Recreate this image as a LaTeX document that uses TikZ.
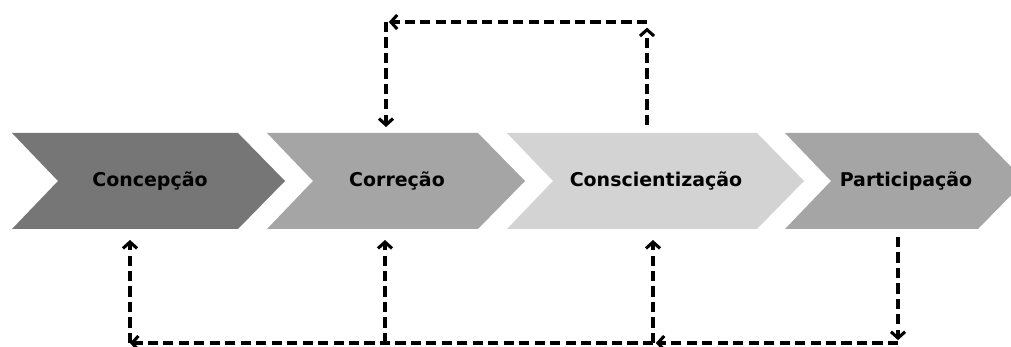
\documentclass[tikz,border=0pt]{standalone}
\usepackage{fontspec}
\setmainfont{DejaVu Sans}
\usepackage{xcolor}
\usepackage{tikz}
\usetikzlibrary{positioning,calc,arrows.meta}

\definecolor{chevdark}{HTML}{767676}
\definecolor{chevmid}{HTML}{A5A5A5}
\definecolor{chevlight}{HTML}{D3D3D3}

\begin{document}
\begin{tikzpicture}[x=0.025cm, y=0.025cm,
    stagetext/.style={font=\bfseries\fontsize{13.5}{16}\selectfont, text=black},
    flow/.style={line width=2.2pt, dash pattern=on 7.2pt off 3.8pt, -{Straight Barb[length=4.5pt,width=10pt]}}]
    \useasboundingbox (0,0) rectangle (1011,347);

    % Chevrons
    \foreach \xl/\xr/\col in {12/238/chevdark, 267/478/chevmid, 507/757/chevlight, 785/978/chevmid} {
        \fill[\col] (\xl,214) -- (\xr,214) -- (\xr+47,166) -- (\xr,118) -- (\xl,118) -- (\xl+46,166) -- cycle;
    }

    % Stage labels
    \node[stagetext] (concep) at (150,166) {Concepção};
    \node[stagetext] (corr) at (397,166) {Correção};
    \node[stagetext] (consc) at (656,166) {Conscientização};
    \node[stagetext] (partic) at (906,166) {Participação};

    % Connector ends
    \coordinate (consc top) at (647,222);
    \coordinate (corr top) at (386,220);
    \coordinate (top right) at (647,325);
    \coordinate (top left) at (386,325);
    \coordinate (concep bot) at (130,107);
    \coordinate (corr bot) at (385,107);
    \coordinate (consc bot) at (653,107);
    \coordinate (partic bot) at (898,110);
    \coordinate (bot left) at (130,4);
    \coordinate (bot mid) at (385,4);
    \coordinate (bot consc) at (653,4);
    \coordinate (bot right) at (898,4);

    % Top loop
    \draw[flow, shorten >=4pt] (consc top) -- (top right);
    \draw[flow, shorten >=2pt] (top right) -- (top left);
    \draw[flow] (top left) -- (corr top);

    % Bottom loop
    \draw[flow, shorten >=2pt] (partic bot) -- (bot right);
    \draw[flow, shorten >=2pt] (bot right) -- (bot consc);
    \draw[flow] (bot consc) -- (consc bot);
    \draw[flow] (bot consc) -- (bot left);
    \draw[flow] (bot left) -- (concep bot);
    \draw[flow] (bot mid) -- (corr bot);
\end{tikzpicture}
\end{document}
